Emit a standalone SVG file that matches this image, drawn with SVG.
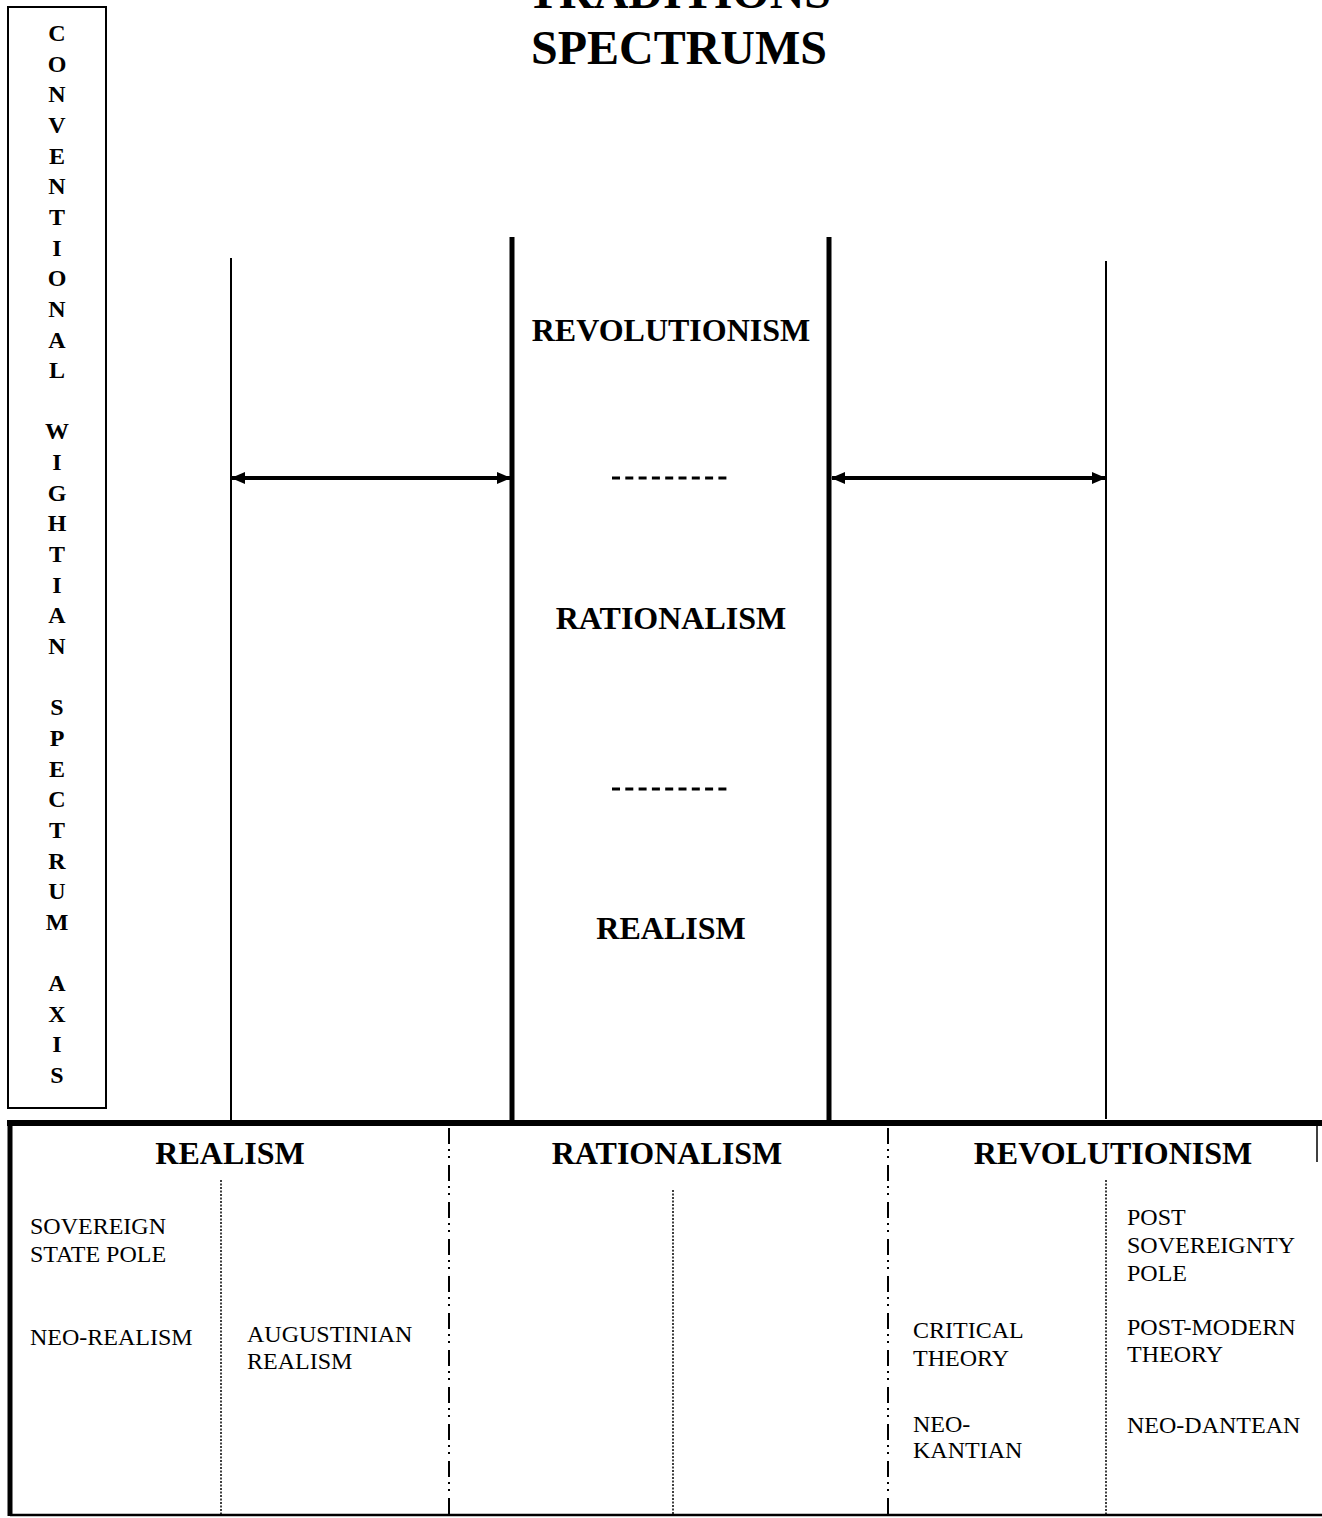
<svg xmlns="http://www.w3.org/2000/svg" width="1322" height="1518" viewBox="0 0 1322 1518">
<style>
.tb{font-family:"Liberation Serif","Times New Roman",serif;font-weight:bold;fill:#000}
.tr{font-family:"Liberation Serif","Times New Roman",serif;font-size:24px;fill:#000}
.v{font-size:24px;text-anchor:middle}
.h{font-size:32px;text-anchor:middle}
.thin{stroke:#000;stroke-width:2;fill:none}
.thick{stroke:#000;stroke-width:5;fill:none}
.dd{stroke:#000;stroke-width:2;stroke-dasharray:16 5 2 5 2 7;fill:none}
.dot{stroke:#000;stroke-width:1.5;stroke-dasharray:2 1.5;fill:none}
.dash{stroke:#000;stroke-width:3;stroke-dasharray:8 5.3;fill:none}
</style>
<defs>
<marker id="ah" markerUnits="userSpaceOnUse" markerWidth="14" markerHeight="12" refX="13" refY="6" orient="auto-start-reverse">
<path d="M0,0 L14,6 L0,12 Z" fill="#000"/>
</marker>
</defs>
<rect width="1322" height="1518" fill="#fff"/>
<g id="title">
<text class="tb h" x="679" y="8" style="font-size:48px">TRADITIONS</text>
<text class="tb h" x="679" y="64" style="font-size:48px">SPECTRUMS</text>
</g>
<g id="axis-box">
<rect x="8" y="7" width="98" height="1101" class="thin"/>
<text class="tb v" x="57" y="41">C</text>
<text class="tb v" x="57" y="71.65">O</text>
<text class="tb v" x="57" y="102.3">N</text>
<text class="tb v" x="57" y="132.95">V</text>
<text class="tb v" x="57" y="163.6">E</text>
<text class="tb v" x="57" y="194.25">N</text>
<text class="tb v" x="57" y="224.9">T</text>
<text class="tb v" x="57" y="255.55">I</text>
<text class="tb v" x="57" y="286.2">O</text>
<text class="tb v" x="57" y="316.85">N</text>
<text class="tb v" x="57" y="347.5">A</text>
<text class="tb v" x="57" y="378.15">L</text>
<text class="tb v" x="57" y="439.45">W</text>
<text class="tb v" x="57" y="470.1">I</text>
<text class="tb v" x="57" y="500.75">G</text>
<text class="tb v" x="57" y="531.4">H</text>
<text class="tb v" x="57" y="562.05">T</text>
<text class="tb v" x="57" y="592.7">I</text>
<text class="tb v" x="57" y="623.35">A</text>
<text class="tb v" x="57" y="654">N</text>
<text class="tb v" x="57" y="715.3">S</text>
<text class="tb v" x="57" y="745.95">P</text>
<text class="tb v" x="57" y="776.6">E</text>
<text class="tb v" x="57" y="807.25">C</text>
<text class="tb v" x="57" y="837.9">T</text>
<text class="tb v" x="57" y="868.55">R</text>
<text class="tb v" x="57" y="899.2">U</text>
<text class="tb v" x="57" y="929.85">M</text>
<text class="tb v" x="57" y="991.15">A</text>
<text class="tb v" x="57" y="1021.8">X</text>
<text class="tb v" x="57" y="1052.45">I</text>
<text class="tb v" x="57" y="1083.1">S</text>
</g>
<g id="spectrum-lines">
<line x1="231" y1="258" x2="231" y2="1121" class="thin"/>
<line x1="512" y1="237" x2="512" y2="1122" class="thick"/>
<line x1="829" y1="237" x2="829" y2="1122" class="thick"/>
<line x1="1106" y1="261" x2="1106" y2="1119" class="thin"/>
</g>
<g id="connectors">
<line x1="232" y1="478" x2="510" y2="478" stroke="#000" stroke-width="4" marker-start="url(#ah)" marker-end="url(#ah)"/>
<line x1="832" y1="478" x2="1105" y2="478" stroke="#000" stroke-width="4" marker-start="url(#ah)" marker-end="url(#ah)"/>
</g>
<g id="center-column">
<text class="tb h" x="671" y="341">REVOLUTIONISM</text>
<line x1="612" y1="478" x2="731" y2="478" class="dash"/>
<text class="tb h" x="671" y="629">RATIONALISM</text>
<line x1="612" y1="789" x2="731" y2="789" class="dash"/>
<text class="tb h" x="671" y="939">REALISM</text>
</g>
<g id="bottom-table">
<line x1="10" y1="1515" x2="1322" y2="1515" stroke="#000" stroke-width="2.5"/>
<line x1="7" y1="1123" x2="1322" y2="1123" stroke="#000" stroke-width="6"/>
<line x1="10" y1="1121" x2="10" y2="1516" stroke="#000" stroke-width="5"/>
<line x1="1317" y1="1124" x2="1317" y2="1162" stroke="#000" stroke-width="1.5"/>
<line x1="449" y1="1128" x2="449" y2="1514" class="dd"/>
<line x1="888" y1="1128" x2="888" y2="1514" class="dd"/>
<line x1="221" y1="1180" x2="221" y2="1514" class="dot"/>
<line x1="673" y1="1190" x2="673" y2="1514" class="dot"/>
<line x1="1106" y1="1180" x2="1106" y2="1514" class="dot"/>
</g>
<g id="realism-col">
<text class="tb h" x="230" y="1164">REALISM</text>
<text class="tr" x="30" y="1234">SOVEREIGN</text>
<text class="tr" x="30" y="1262">STATE POLE</text>
<text class="tr" x="30" y="1345">NEO-REALISM</text>
<text class="tr" x="247" y="1342">AUGUSTINIAN</text>
<text class="tr" x="247" y="1369">REALISM</text>
</g>
<g id="rationalism-col">
<text class="tb h" x="667" y="1164">RATIONALISM</text>
</g>
<g id="revolutionism-col">
<text class="tb h" x="1113" y="1164">REVOLUTIONISM</text>
<text class="tr" x="1127" y="1225">POST</text>
<text class="tr" x="1127" y="1253">SOVEREIGNTY</text>
<text class="tr" x="1127" y="1281">POLE</text>
<text class="tr" x="1127" y="1335">POST-MODERN</text>
<text class="tr" x="1127" y="1362">THEORY</text>
<text class="tr" x="1127" y="1433">NEO-DANTEAN</text>
<text class="tr" x="913" y="1338">CRITICAL</text>
<text class="tr" x="913" y="1366">THEORY</text>
<text class="tr" x="913" y="1432">NEO-</text>
<text class="tr" x="913" y="1458">KANTIAN</text>
</g>
</svg>
